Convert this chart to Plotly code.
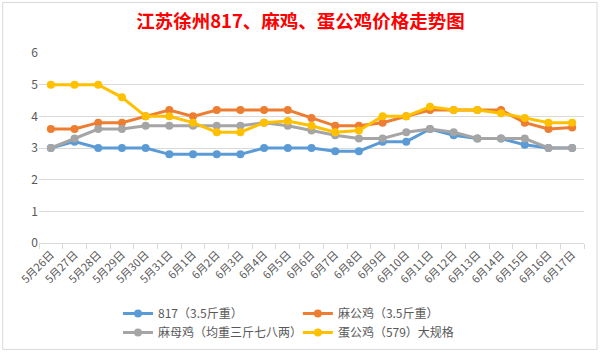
import plotly.graph_objects as go

dates = ["5月26日", "5月27日", "5月28日", "5月29日", "5月30日", "5月31日",
         "6月1日", "6月2日", "6月3日", "6月4日", "6月5日", "6月6日", "6月7日",
         "6月8日", "6月9日", "6月10日", "6月11日", "6月12日", "6月13日",
         "6月14日", "6月15日", "6月16日", "6月17日"]

s817 = [3.0, 3.2, 3.0, 3.0, 3.0, 2.8, 2.8, 2.8, 2.8, 3.0, 3.0, 3.0, 2.9,
        2.9, 3.2, 3.2, 3.6, 3.4, 3.3, 3.3, 3.1, 3.0, 3.0]
ma_gong = [3.6, 3.6, 3.8, 3.8, 4.0, 4.2, 4.0, 4.2, 4.2, 4.2, 4.2, 3.95, 3.7,
           3.7, 3.8, 4.0, 4.2, 4.2, 4.2, 4.2, 3.8, 3.6, 3.65]
ma_mu = [3.0, 3.3, 3.6, 3.6, 3.7, 3.7, 3.7, 3.7, 3.7, 3.8, 3.7, 3.55, 3.4,
         3.3, 3.3, 3.5, 3.6, 3.5, 3.3, 3.3, 3.3, 3.0, 3.0]
dan_gong = [5.0, 5.0, 5.0, 4.6, 4.0, 4.0, 3.8, 3.5, 3.5, 3.8, 3.85, 3.7, 3.5,
            3.55, 4.0, 4.0, 4.3, 4.2, 4.2, 4.1, 3.95, 3.8, 3.8]

names = ["817（3.5斤重）", "麻公鸡（3.5斤重）", "麻母鸡（均重三斤七八两）", "蛋公鸡（579）大规格"]
colors = ["#5B9BD5", "#ED7D31", "#A5A5A5", "#FFC000"]
series = [s817, ma_gong, ma_mu, dan_gong]
legends = ["legend", "legend2", "legend", "legend2"]

font = "Noto Sans CJK SC"
fig = go.Figure()
for nm, col, ys, lg in zip(names, colors, series, legends):
    fig.add_trace(go.Scatter(
        x=dates, y=ys, name=nm, mode="lines+markers",
        line=dict(color=col, width=3),
        marker=dict(color=col, size=8),
        legend=lg,
    ))

leg_common = dict(orientation="v", yref="container", yanchor="top",
                  font=dict(family=font, size=12, color="#595959"),
                  bgcolor="rgba(0,0,0,0)", tracegroupgap=0, itemwidth=30)

fig.update_layout(
    width=601, height=354,
    margin=dict(l=39, r=17, t=53, b=111, autoexpand=False),
    paper_bgcolor="white", plot_bgcolor="white",
    title=dict(text="<b>江苏徐州817、麻鸡、蛋公鸡价格走势图</b>",
               x=0.5, xanchor="center", y=1 - 22 / 354, yanchor="middle",
               font=dict(family=font, size=18.5, color="#FF0000")),
    font=dict(family=font, color="#595959"),
    legend=dict(x=0.145, y=1 - 299 / 354, **leg_common),
    legend2=dict(x=0.475, y=1 - 299 / 354, **leg_common),
    shapes=[dict(type="rect", xref="paper", yref="paper",
                 x0=-0.0666, x1=1.0239, y0=-0.56, y1=1.266,
                 line=dict(color="#D9D9D9", width=1), layer="below")],
)
fig.update_xaxes(type="category", range=[-0.5, len(dates) - 0.5],
                 automargin=False, showgrid=False, showline=True,
                 linecolor="#D9D9D9", linewidth=1,
                 ticks="outside", tickson="boundaries", ticklen=5,
                 tickcolor="#D9D9D9", tickangle=-45,
                 tickfont=dict(family=font, size=11, color="#595959"))
fig.update_yaxes(range=[0, 6], dtick=1, automargin=False, showgrid=True,
                 gridcolor="#D9D9D9", zeroline=False, showline=False, ticks="",
                 tickfont=dict(family=font, size=12, color="#595959"))

fig.write_html("out.html")
